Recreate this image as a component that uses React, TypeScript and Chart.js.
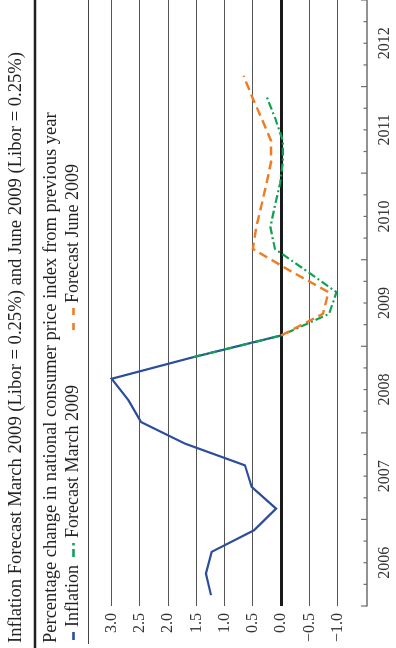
import { useEffect, useRef } from "react";
import { Chart, registerables } from "chart.js";

Chart.register(...registerables);

// ---------- data ----------
const TITLE = "Inflation Forecast March 2009 (Libor = 0.25%) and June 2009 (Libor = 0.25%)";
const SUBTITLE = "Percentage change in national consumer price index from previous year";

const inflationLabel = "Inflation";
const inflationQuarters = [
  "2006Q1", "2006Q2", "2006Q3", "2006Q4",
  "2007Q1", "2007Q2", "2007Q3", "2007Q4",
  "2008Q1", "2008Q2", "2008Q3", "2008Q4",
  "2009Q1",
];
const inflationValues = [1.24, 1.33, 1.23, 0.48, 0.09, 0.52, 0.64, 1.7, 2.48, 2.7, 3.0, 1.55, 0.0];

const marchLabel = "Forecast March 2009";
const marchQuarters = [
  "2008Q4",
  "2009Q1", "2009Q2", "2009Q3", "2009Q4",
  "2010Q1", "2010Q2", "2010Q3", "2010Q4",
  "2011Q1", "2011Q2", "2011Q3", "2011Q4",
];
const marchValues = [1.55, 0.0, -0.85, -0.98, -0.44, 0.11, 0.19, 0.11, 0.02, -0.03, -0.03, 0.1, 0.25];

const juneLabel = "Forecast June 2009";
const juneQuarters = [
  "2009Q1", "2009Q2", "2009Q3", "2009Q4",
  "2010Q1", "2010Q2", "2010Q3", "2010Q4",
  "2011Q1", "2011Q2", "2011Q3", "2011Q4",
  "2012Q1",
];
const juneValues = [0.0, -0.74, -0.84, -0.15, 0.5, 0.44, 0.35, 0.26, 0.18, 0.18, 0.34, 0.51, 0.665];

const yTickValues = [-1, -0.5, 0, 0.5, 1, 1.5, 2, 2.5, 3];
const yearLabels = ["2006", "2007", "2008", "2009", "2010", "2011", "2012"];

// ---------- styling ----------
const SERIF = '"Liberation Serif", "Times New Roman", serif';
const TEXT = "#231f20";
const BLUE = "#2b4d9c";
const GREEN = "#12a052";
const ORANGE = "#ef7b22";
const START_YEAR = 2006;

function quarterToMonth(q: string): number {
  const y = Number(q.slice(0, 4));
  const n = Number(q.slice(5));
  return (y - START_YEAR) * 12 + (n - 1) * 3 + 1.5;
}

function toPoints(quarters: string[], values: number[]) {
  return quarters.map((q, i) => ({ x: quarterToMonth(q), y: values[i] }));
}

export default function App() {
  const ref = useRef<HTMLCanvasElement>(null);

  useEffect(() => {
    const canvas = ref.current;
    if (!canvas) return;

    const decor = {
      id: "decor",
      afterDraw(chart: any) {
        const { ctx, chartArea, scales } = chart;
        const xs = scales.x;
        const seg = (x1: number, y1: number, x2: number, y2: number) => {
          ctx.beginPath();
          ctx.moveTo(x1, y1);
          ctx.lineTo(x2, y2);
          ctx.stroke();
        };
        ctx.save();
        ctx.textAlign = "left";
        ctx.textBaseline = "alphabetic";
        ctx.fillStyle = TEXT;

        // title
        ctx.font = `18.6px ${SERIF}`;
        ctx.fillText(TITLE, 5, 20.5);
        // thick rule
        ctx.strokeStyle = TEXT;
        ctx.lineWidth = 2.5;
        seg(0, 35, 648, 35);
        // subtitle
        ctx.font = `18.5px ${SERIF}`;
        ctx.fillText(SUBTITLE, 5, 55.5);

        // legend
        const ly = 73.5;
        const lb = 78;
        ctx.font = `18px ${SERIF}`;
        ctx.lineWidth = 2.6;
        ctx.strokeStyle = BLUE;
        seg(8, ly, 16, ly);
        ctx.fillText(inflationLabel, 21, lb);
        ctx.strokeStyle = GREEN;
        seg(91, ly, 99, ly);
        seg(102.5, ly, 105, ly);
        ctx.fillText(marchLabel, 110, lb);
        ctx.strokeStyle = ORANGE;
        seg(318, ly, 325, ly);
        seg(333, ly, 340, ly);
        ctx.fillText(juneLabel, 345, lb);

        // thin rule
        ctx.strokeStyle = "#444";
        ctx.lineWidth = 1;
        seg(4, 88.5, 648, 88.5);

        // x axis line and quarterly ticks (pointing inward)
        const yb = chartArea.bottom;
        ctx.strokeStyle = "#6d6e71";
        ctx.lineWidth = 1.5;
        seg(chartArea.left - 0.5, yb, chartArea.right, yb);
        ctx.lineWidth = 1.2;
        for (let m = 0; m <= yearLabels.length * 12; m += 3) {
          const px = xs.getPixelForValue(m);
          const len = m % 12 === 0 ? 6 : 3.5;
          seg(px, yb, px, yb - len);
        }
        ctx.restore();
      },
    };

    const chart = new Chart(canvas, {
      type: "line",
      data: {
        datasets: [
          {
            label: juneLabel,
            data: toPoints(juneQuarters, juneValues),
            borderColor: ORANGE,
            borderWidth: 2.4,
            borderDash: [9, 5],
            pointRadius: 0,
            tension: 0,
            fill: false,
            order: 1,
          },
          {
            label: marchLabel,
            data: toPoints(marchQuarters, marchValues),
            borderColor: GREEN,
            borderWidth: 2.2,
            borderDash: [8, 3, 2, 3],
            pointRadius: 0,
            tension: 0,
            fill: false,
            order: 2,
          },
          {
            label: inflationLabel,
            data: toPoints(inflationQuarters, inflationValues),
            borderColor: BLUE,
            borderWidth: 2.2,
            pointRadius: 0,
            tension: 0,
            fill: false,
            order: 3,
          },
        ],
      },
      options: {
        responsive: false,
        animation: false,
        devicePixelRatio: 1,
        layout: { padding: { top: 89, left: 0, right: 0, bottom: 0 } },
        plugins: {
          legend: { display: false },
          title: { display: false },
          tooltip: { enabled: false },
        },
        scales: {
          x: {
            type: "linear",
            min: 0,
            max: yearLabels.length * 12,
            grid: { display: false, drawTicks: false },
            border: { display: false },
            afterBuildTicks: (scale: any) => {
              scale.ticks = yearLabels.map((_, i) => ({ value: i * 12 + 6 }));
            },
            afterFit: (scale: any) => {
              scale.height = 29;
            },
            ticks: {
              autoSkip: false,
              maxRotation: 0,
              padding: 8,
              color: "#333",
              font: { family: SERIF, size: 16 },
              callback: (_v: any, i: number) => yearLabels[i],
            },
          },
          y: {
            type: "linear",
            min: -1.52,
            max: 3.4,
            grid: {
              drawTicks: false,
              color: (c: any) => (c.tick && c.tick.value === 0 ? "#1a1a1a" : "#555"),
              lineWidth: (c: any) => (c.tick && c.tick.value === 0 ? 3 : 1),
            },
            border: { display: false },
            afterBuildTicks: (scale: any) => {
              scale.ticks = yTickValues.map((v) => ({ value: v }));
            },
            afterFit: (scale: any) => {
              scale.width = 42;
            },
            ticks: {
              padding: 7,
              color: "#333",
              font: { family: SERIF, size: 16 },
              callback: (v: any) => {
                const n = Number(v);
                return (n < 0 ? "\u2212" : "") + Math.abs(n).toFixed(1);
              },
            },
          },
        },
      },
      plugins: [decor],
    } as any);

    return () => chart.destroy();
  }, []);

  return (
    <div
      style={{
        position: "fixed",
        left: 0,
        top: 0,
        width: 648,
        height: 396,
        transformOrigin: "0 0",
        transform: "translate(0px, 648px) rotate(-90deg)",
        background: "#fff",
      }}
    >
      <canvas ref={ref} width={648} height={396} style={{ display: "block" }} />
    </div>
  );
}
